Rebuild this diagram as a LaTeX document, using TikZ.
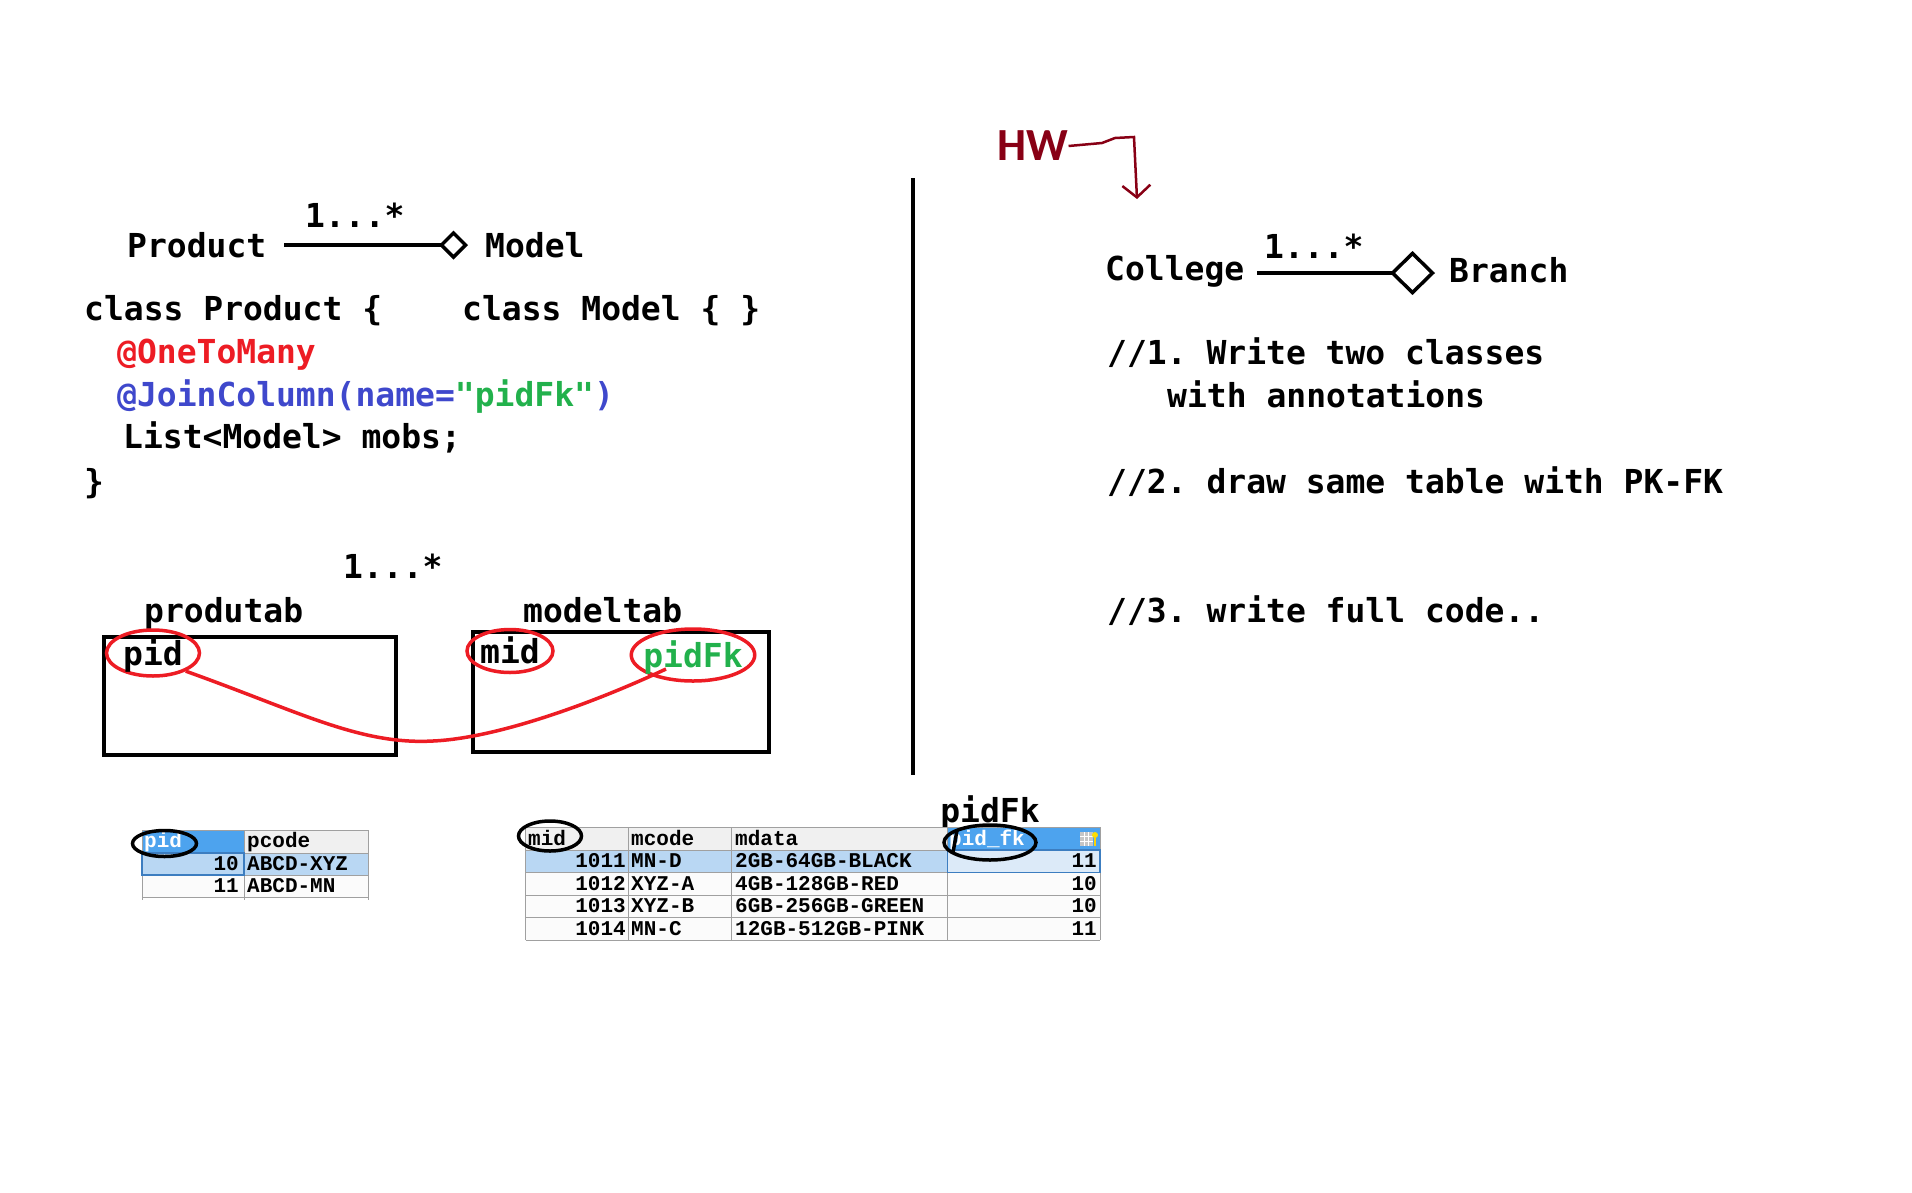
\documentclass[tikz,border=0pt]{standalone}
\usepackage{fontspec}
\usetikzlibrary{positioning, arrows.meta, shapes.geometric}

\newfontfamily\codefont{DejaVu Sans Mono}[Ligatures=TeXOff]
\newfontfamily\gridfont{Liberation Mono}[Ligatures=TeXOff]
\newfontfamily\notefont{Carlito}
\frenchspacing

\definecolor{penred}{HTML}{ED1C24}
\definecolor{penblue}{HTML}{3F48CC}
\definecolor{pengreen}{HTML}{22B14C}
\definecolor{hwred}{HTML}{880015}
\definecolor{gridline}{HTML}{A0A0A0}
\definecolor{headgray}{HTML}{F0F0F0}
\definecolor{selblue}{HTML}{4DA3EE}
\definecolor{rowblue}{HTML}{B9D7F3}
\definecolor{cellpale}{HTML}{DCEAF8}
\definecolor{celledge}{HTML}{3C7DC0}

\begin{document}
\begin{tikzpicture}[x=1pt, y=-1pt,
    code/.style={font=\codefont\bfseries\fontsize{33}{40}\selectfont, inner sep=0pt, anchor=west, text height=24pt, text depth=0pt},
    cell/.style={font=\gridfont\bfseries\fontsize{21}{24}\selectfont, inner sep=0pt, text height=13pt, text depth=0pt},
    uml/.style={line width=3.5pt, -{Diamond[open, length=29pt, width=29pt, line width=3.5pt]}},
    umlbig/.style={line width=3.5pt, -{Diamond[open, length=45pt, width=44pt, line width=3.5pt]}},
    key/.style={ellipse, draw=penred, line width=3.5pt, inner sep=0pt, font=\codefont\bfseries\fontsize{33}{40}\selectfont, text height=24pt, text depth=0pt},
    ring/.style={ellipse, draw=black, line width=3.5pt, inner sep=0pt},
    tabbox/.style={draw, line width=4pt}
]
\useasboundingbox (0,0) rectangle (1912,1192);
\fill[white] (0,0) rectangle (1912,1192);

% class relation
\node[code] (product) at (127,245) {Product};
\node[code] (model) at (485,245) {Model};
\node[code] (multa) at (305,215) {1...*};
\draw[uml] ([xshift=18pt]product.east) -- ([xshift=-17pt]model.west);

% code
\node[code] (clsprod) at (84,308) {class Product \{};
\node[code] (clsmodel) at (462,308) {class Model \{ \}};
\node[code, text=penred] (onetomany) at (117,351) {@OneToMany};
\node[code] (joincol) at (117,394) {\textcolor{penblue}{@JoinColumn(name=}\textcolor{pengreen}{"pidFk"}\textcolor{penblue}{)}};
\node[code] (mobs) at (123,436) {List<Model> mobs;};
\node[code] (clsend) at (84,481) {\}};

% tables as boxes
\node[code] (multb) at (343,566) {1...*};
\node[code] (produtab) at (144,610) {produtab};
\node[code] (modeltab) at (523,610) {modeltab};
\node[tabbox, minimum width=292pt, minimum height=118pt] (prodbox) at (250,696) {};
\node[tabbox, minimum width=296pt, minimum height=120pt] (modelbox) at (621,692) {};
\node[key, minimum width=93pt, minimum height=46pt] (pidkey) at (153,653) {pid};
\node[key, minimum width=86pt, minimum height=43pt] (midkey) at (510,651) {mid};
\node[key, inner xsep=-6pt, minimum width=122pt, minimum height=52pt, text=pengreen] (fkkey) at (693,655) {pidFk};
\draw[penred, line width=3.5pt] (pidkey.-29) .. controls (300,712) and (360,745) .. (433,741)
    .. controls (500,738) and (600,700) .. ([xshift=-27pt,yshift=-14pt]fkkey.center);

% divider
\draw[line width=4pt] (913,178) -- (913,775);

% homework
\node[font=\notefont\bfseries\fontsize{46}{50}\selectfont, text=hwred, inner sep=0pt] (hw) at (1033,146) {HW};
\coordinate (hwtip) at (1137,199);
\draw[hwred, line width=2.5pt, -{Straight Barb[length=12pt, width=28pt]}]
    (hw.east) -- (1102,143) -- (1115,138) -- (1134,137) -- (hwtip);

\node[code] (college) at (1105,268) {College};
\node[code] (branch) at (1449,270) {Branch};
\node[code] (multc) at (1264,246) {1...*};
\draw[umlbig] ([xshift=13pt,yshift=-5pt]college.east) -- ([xshift=-14pt,yshift=-3pt]branch.west);

\node[code] (taska) at (1107,352) {//1. Write two classes};
\node[code] (taskb) at (1167,395) {with annotations};
\node[code] (taskc) at (1107,481) {//2. draw same table with PK-FK};
\node[code] (taskd) at (1107,610) {//3. write full code..};

% product grid
\fill[selblue] (142,830) rectangle (244,853);
\fill[headgray] (244,830) rectangle (368,853);
\fill[rowblue] (142,853) rectangle (368,875);
\fill[white!97!gray] (142,875) rectangle (368,897);
\foreach \y in {830,853,875,897}
  \draw[gridline, line width=1pt] (142,\y) -- (368,\y);
\foreach \x in {142,244,368}
  \draw[gridline, line width=1pt] (\x,830) -- (\x,900);
\draw[celledge, line width=1.5pt] (142,853) rectangle (244,875);
\node[cell, anchor=west, text=white] (phid) at (144,841) {pid};
\node[cell, anchor=west] (phcode) at (247,841) {pcode};
\foreach \id/\code [count=\r] in {10/ABCD-XYZ, 11/ABCD-MN} {
  \pgfmathsetmacro{\yy}{853+(\r-1)*22+11}
  \node[cell, anchor=east] (pid\r) at (239,\yy) {\id};
  \node[cell, anchor=west] (pcode\r) at (247,\yy) {\code};
}
\node[ring, minimum width=64pt, minimum height=26pt] (pidring) at (164.5,843.5) {};

% model grid
\node[code, anchor=center] (fklabel) at (990,810) {pidFk};
\fill[headgray] (525.6,827) rectangle (947.5,850);
\fill[selblue] (947.5,827) rectangle (1100,850);
\fill[rowblue] (525.6,850) rectangle (947.5,872.5);
\fill[cellpale] (947.5,850) rectangle (1100,872.5);
\fill[white!97!gray] (525.6,872.5) rectangle (1100,940);
\foreach \y in {827,850,872.5,895,917.5,940}
  \draw[gridline, line width=1pt] (525.6,\y) -- (1100,\y);
\foreach \x in {525.6,628,731.6,947.5,1100}
  \draw[gridline, line width=1pt] (\x,827) -- (\x,940);
\draw[celledge, line width=1.5pt] (947.5,850) rectangle (1100,872.5);
\node[cell, anchor=west] (mhid) at (528,838.5) {mid};
\node[cell, anchor=west] (mhcode) at (631,838.5) {mcode};
\node[cell, anchor=west] (mhdata) at (735,838.5) {mdata};
\node[cell, anchor=west, text=white] (mhfk) at (949,838.5) {pid\_fk};
% grid icon
\fill[gray!45] (1080,832) rectangle (1093,846);
\draw[white, line width=0.8pt] (1084.3,832) -- (1084.3,846) (1088.6,832) -- (1088.6,846) (1080,836.7) -- (1093,836.7) (1080,841.3) -- (1093,841.3);
\fill[yellow!80!orange] (1095,835) circle (3);
\draw[yellow!70!orange, line width=1.5pt] (1095,837) -- (1095,846);
\foreach \id/\code/\data/\fk [count=\r] in {1011/MN-D/2GB-64GB-BLACK/11, 1012/XYZ-A/4GB-128GB-RED/10, 1013/XYZ-B/6GB-256GB-GREEN/10, 1014/MN-C/12GB-512GB-PINK/11} {
  \pgfmathsetmacro{\yy}{850+(\r-1)*22.5+11.25}
  \node[cell, anchor=east] (mid\r) at (626,\yy) {\id};
  \node[cell, anchor=west] (mcode\r) at (631,\yy) {\code};
  \node[cell, anchor=west] (mdata\r) at (735,\yy) {\data};
  \node[cell, anchor=east] (mfk\r) at (1097,\yy) {\fk};
}
\node[ring, minimum width=63pt, minimum height=30pt] (midring) at (550,836) {};
\node[ring, minimum width=92pt, minimum height=35pt] (fkring) at (990,842.5) {};
\draw[line width=3.5pt] ([xshift=-33pt,yshift=12pt]fkring.center) -- ([xshift=-37pt,yshift=-10pt]fkring.center);
\end{tikzpicture}
\end{document}
